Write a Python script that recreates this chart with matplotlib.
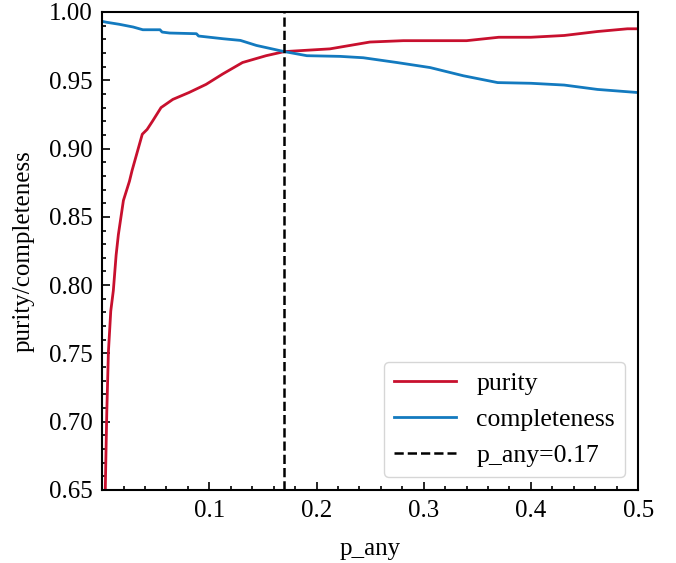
import matplotlib.pyplot as plt
from matplotlib.ticker import MultipleLocator

# values
purity_x = [0.003, 0.0035, 0.0044, 0.0059, 0.0081, 0.0105, 0.0131, 0.0152, 0.0199,
            0.0255, 0.028, 0.0375, 0.042, 0.047, 0.055, 0.066, 0.081, 0.097,
            0.1125, 0.131, 0.153, 0.170, 0.2125, 0.2498, 0.281, 0.340, 0.370,
            0.40, 0.431, 0.462, 0.490, 0.50]
purity_y = [0.65, 0.672, 0.707, 0.751, 0.781, 0.796, 0.822, 0.837, 0.862,
            0.876, 0.884, 0.9105, 0.914, 0.920, 0.930, 0.936, 0.941, 0.947,
            0.9546, 0.963, 0.968, 0.971, 0.973, 0.978, 0.979, 0.979, 0.9815,
            0.9815, 0.9828, 0.9857, 0.9877, 0.9877]

compl_x = [0.001, 0.004, 0.016, 0.029, 0.038, 0.054, 0.056, 0.063, 0.088, 0.090,
           0.113, 0.129, 0.144, 0.170, 0.191, 0.222, 0.2436, 0.275, 0.306, 0.337,
           0.369, 0.40, 0.431, 0.462, 0.50]
compl_y = [0.993, 0.9925, 0.991, 0.989, 0.987, 0.987, 0.9853, 0.9846, 0.9841, 0.9824,
           0.9804, 0.9792, 0.9755, 0.971, 0.968, 0.9675, 0.9665, 0.963, 0.9593, 0.9533,
           0.9483, 0.9478, 0.9465, 0.9433, 0.941]

p_cut = 0.17
xticks = [0.1, 0.2, 0.3, 0.4, 0.5]

plt.rcParams['font.family'] = ['Liberation Serif', 'DejaVu Serif']
plt.rcParams['font.size'] = 18

fig = plt.figure(figsize=(6.76, 5.63), dpi=100)
ax = fig.add_axes([0.151, 0.1297, 0.793, 0.849])

ax.plot(purity_x, purity_y, color='#c8102e', lw=2, label='purity')
ax.plot(compl_x, compl_y, color='#137abf', lw=2, label='completeness')
ax.axvline(p_cut, color='black', ls='--', lw=1.8, label=f'p_any={p_cut}')

ax.set_xlim(0, 0.5)
ax.set_ylim(0.65, 1.0)
ax.set_xticks(xticks)
ax.xaxis.set_minor_locator(MultipleLocator(0.02))
ax.yaxis.set_major_locator(MultipleLocator(0.05))
ax.yaxis.set_minor_locator(MultipleLocator(0.01))
ax.yaxis.set_major_formatter(plt.FormatStrFormatter('%.2f'))
ax.tick_params(which='both', direction='in', width=1.2, pad=7)
ax.tick_params(which='major', length=6)
ax.tick_params(which='minor', length=3)
for s in ax.spines.values():
    s.set_linewidth(1.5)

ax.set_xlabel('p_any', labelpad=12)
ax.set_ylabel('purity/completeness', labelpad=10)
ax.legend(loc='lower right', fontsize=18.5, handlelength=2.4)

fig.savefig('out.png', dpi=100)
